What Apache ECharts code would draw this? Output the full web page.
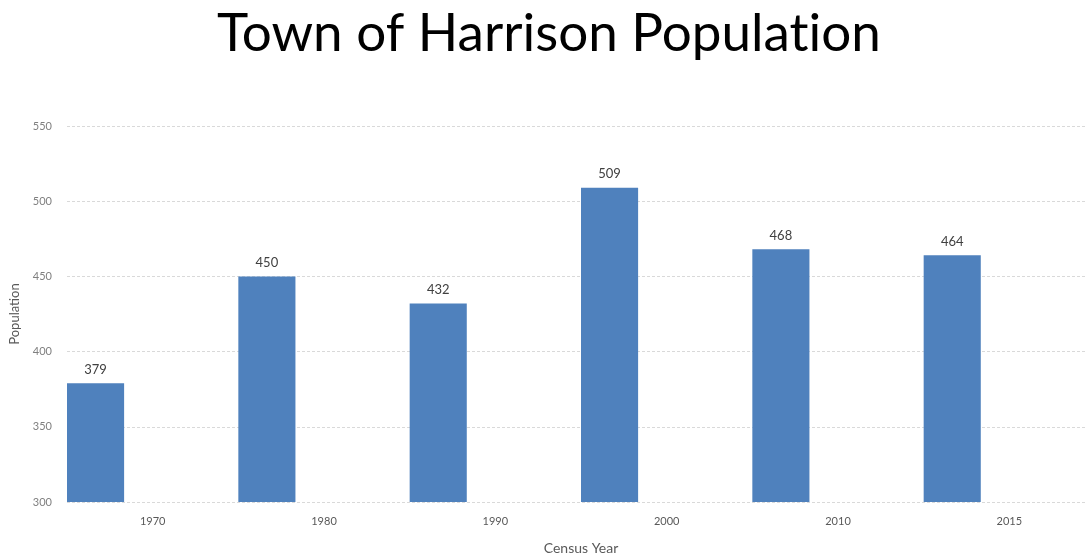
<!DOCTYPE html>
<html>
<head>
<meta charset="utf-8">
<script src="https://cdn.jsdelivr.net/npm/echarts@6/dist/echarts.min.js"></script>
<style>
  html, body { margin: 0; padding: 0; background: #fff; }
  #chart { width: 1086px; height: 554px; }
</style>
</head>
<body>
<div id="chart"></div>
<script>
// Census years and population counts
const years = ['1970', '1980', '1990', '2000', '2010', '2015'];
const population = [379, 450, 432, 509, 468, 464];
const yTicks = { min: 300, max: 550, interval: 50 };

const chart = echarts.init(document.getElementById('chart'));
chart.setOption({
  animation: false,
  backgroundColor: '#ffffff',
  title: {
    // zero-width non-joiner keeps "t" and "i" as separate glyphs
    text: 'Town of Harrison Populat\u200Cion',
    left: 212,
    top: 2,
    textStyle: { fontFamily: 'Lato', fontSize: 53, fontWeight: 'normal', color: '#000' }
  },
  grid: { left: 67, width: 1028, top: 126, bottom: 52, outerBoundsMode: 'none' },
  xAxis: {
    type: 'category',
    data: years,
    name: 'Census Year',
    nameLocation: 'middle',
    nameGap: 39,
    nameTextStyle: { fontFamily: 'Lato', fontSize: 14, color: '#595959' },
    axisLine: { show: false },
    axisTick: { show: false },
    axisLabel: { fontFamily: 'Lato', fontSize: 11, color: '#595959', margin: 14 }
  },
  yAxis: {
    type: 'value',
    min: yTicks.min,
    max: yTicks.max,
    interval: yTicks.interval,
    name: 'Population',
    nameLocation: 'middle',
    nameGap: 46,
    nameTextStyle: { fontFamily: 'Lato', fontSize: 13, color: '#595959' },
    axisLine: { show: false },
    axisTick: { show: false },
    axisLabel: { fontFamily: 'Lato', fontSize: 11, color: '#7f7f7f', margin: 15 },
    splitLine: { lineStyle: { color: '#d9d9d9', type: [3, 2], width: 1 } }
  },
  series: [
    {
      type: 'bar',
      data: population,
      barGap: '100%',
      barCategoryGap: '0%',
      itemStyle: { color: '#4f81bd' },
      label: {
        show: true,
        position: 'top',
        distance: 7,
        fontFamily: 'Lato',
        fontSize: 13,
        color: '#404040'
      }
    },
    {
      type: 'bar',
      data: years.map(() => null),
      silent: true
    }
  ]
});
</script>
</body>
</html>
